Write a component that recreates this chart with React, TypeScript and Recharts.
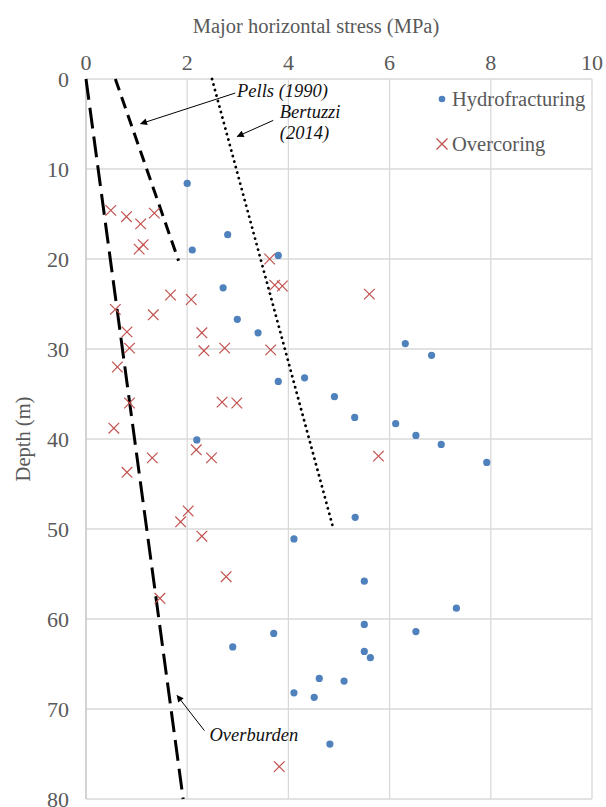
import React from 'react';
import {
  ScatterChart,
  Scatter,
  XAxis,
  YAxis,
  CartesianGrid,
  Legend,
  ReferenceLine,
  ReferenceDot,
} from 'recharts';

const FONT = '"Liberation Serif", "Times New Roman", Times, "DejaVu Serif", serif';
const TEXT_GREY = '#595959';
const BLUE = '#4F81BD';
const RED = '#C0504D';

// [stress (MPa), depth (m)]
const hydrofracturing: [number, number][] = [
  [2.0, 11.6], [2.8, 17.3], [2.1, 19.0], [3.8, 19.6], [2.71, 23.2],
  [2.99, 26.7], [3.4, 28.2], [6.31, 29.4], [6.83, 30.7], [3.8, 33.6],
  [4.32, 33.2], [4.91, 35.3], [5.31, 37.6], [6.12, 38.3], [6.52, 39.6],
  [7.02, 40.6], [7.92, 42.6], [2.19, 40.1], [5.32, 48.7], [4.11, 51.1],
  [5.5, 55.8], [7.32, 58.8], [5.5, 60.6], [6.52, 61.4], [3.71, 61.6],
  [2.9, 63.1], [5.5, 63.6], [5.62, 64.3], [4.61, 66.6], [5.1, 66.9],
  [4.11, 68.2], [4.51, 68.7], [4.82, 73.9],
];

const overcoring: [number, number][] = [
  [0.49, 14.6], [0.8, 15.3], [1.08, 16.1], [1.35, 14.9], [1.05, 18.9],
  [1.13, 18.4], [3.63, 20.0], [3.73, 22.9], [3.88, 23.0], [1.67, 24.0],
  [2.08, 24.5], [5.6, 23.9], [0.58, 25.6], [1.33, 26.2], [0.81, 28.1],
  [2.29, 28.2], [0.86, 29.9], [2.33, 30.2], [2.74, 29.9], [3.65, 30.1],
  [0.62, 32.0], [2.69, 35.9], [2.98, 36.0], [0.86, 36.0], [0.55, 38.8],
  [2.18, 41.2], [2.48, 42.1], [1.31, 42.1], [0.81, 43.7], [5.78, 41.9],
  [2.02, 48.0], [1.87, 49.2], [2.29, 50.8], [2.77, 55.3], [1.46, 57.7],
  [3.82, 76.4],
];

// reference stress profiles
const overburdenLine: [number, number][] = [[0, 0], [1.92, 80]];
const pellsLine: [number, number][] = [[0.58, 0], [1.83, 20.2]];
const bertuzziLine: [number, number][] = [[2.49, 0], [4.89, 50]];

const stressTicks = [0, 2, 4, 6, 8, 10];
const depthTicks = [0, 10, 20, 30, 40, 50, 60, 70, 80];

const annotationLabels = [
  { lines: ['Pells (1990)'], x: 2.985, y: 2.0 },
  { lines: ['Bertuzzi', '(2014)'], x: 3.83, y: 4.35 },
  { lines: ['Overburden'], x: 2.44, y: 73.5 },
];

const annotationArrows = [
  { from: { x: 2.95, y: 1.56 }, to: { x: 1.08, y: 4.97 } },
  { from: { x: 3.7, y: 4.6 }, to: { x: 2.99, y: 6.38 } },
  { from: { x: 2.34, y: 72.4 }, to: { x: 1.8, y: 68.5 } },
];

const toPoints = (arr: [number, number][]) => arr.map(([x, y]) => ({ x, y }));

const XTitle = (props: any) => {
  const vb = props.viewBox || { x: 86, y: 0, width: 506, height: 79 };
  const cx = vb.x + vb.width / 2 - 23;
  return (
    <text x={cx} y={33} textAnchor="middle" fill={TEXT_GREY} fontSize={20.5} style={{ fontFamily: FONT }}>
      Major horizontal stress (MPa)
    </text>
  );
};

const YTitle = (props: any) => {
  const vb = props.viewBox || { x: 0, y: 79, width: 86, height: 720 };
  const cx = 23;
  const cy = vb.y + vb.height / 2;
  return (
    <text
      x={cx}
      y={cy}
      transform={`rotate(-90 ${cx} ${cy})`}
      textAnchor="middle"
      dominantBaseline="central"
      fill={TEXT_GREY}
      fontSize={20.5}
      style={{ fontFamily: FONT }}
    >
      Depth (m)
    </text>
  );
};

const Dot = (p: any) => <circle cx={p.cx} cy={p.cy} r={3.6} fill={BLUE} />;

const Cross = (p: any) => (
  <g stroke={RED} strokeWidth={1.2}>
    <line x1={p.cx - 5.3} y1={p.cy - 5.3} x2={p.cx + 5.3} y2={p.cy + 5.3} />
    <line x1={p.cx + 5.3} y1={p.cy - 5.3} x2={p.cx - 5.3} y2={p.cy + 5.3} />
  </g>
);

const renderLegend = (props: any) => {
  const items = (props.payload || []).filter((e: any) => e.type !== 'none');
  return (
    <div style={{ fontFamily: FONT, fontSize: 20.5, color: TEXT_GREY }}>
      {items.map((entry: any, i: number) => (
        <div
          key={entry.value}
          style={{ display: 'flex', alignItems: 'center', height: 24, lineHeight: '24px', marginTop: i ? 21 : 0 }}
        >
          <svg width={12} height={12} style={{ marginRight: 4, flex: 'none' }}>
            {entry.value === 'Overcoring' ? (
              <g stroke={RED} strokeWidth={1.2}>
                <line x1={0.5} y1={0.5} x2={11.5} y2={11.5} />
                <line x1={11.5} y1={0.5} x2={0.5} y2={11.5} />
              </g>
            ) : (
              <circle cx={6} cy={6} r={3.3} fill={BLUE} />
            )}
          </svg>
          <span style={{ whiteSpace: 'nowrap' }}>{entry.value}</span>
        </div>
      ))}
    </div>
  );
};

const App = () => {
  const tickStyle = { fill: TEXT_GREY, fontSize: 22, style: { fontFamily: FONT } };

  return (
    <div style={{ position: 'absolute', left: 0, top: 0, fontFamily: FONT }}>
      <svg width={0} height={0} style={{ position: 'absolute' }}>
        <defs>
          <marker
            id="arrowHead"
            viewBox="0 0 10 10"
            refX={9}
            refY={5}
            markerWidth={9}
            markerHeight={7}
            markerUnits="userSpaceOnUse"
            orient="auto"
          >
            <path d="M0,0 L10,5 L0,10 z" fill="#000" />
          </marker>
        </defs>
      </svg>
      <ScatterChart
        width={606}
        height={807}
        margin={{ top: 0, right: 14, bottom: 8, left: 0 }}
        style={{ fontFamily: FONT }}
      >
        <CartesianGrid stroke="#d9d9d9" strokeWidth={1.3} />
        <XAxis
          type="number"
          dataKey="x"
          orientation="top"
          domain={[0, 10]}
          ticks={stressTicks}
          interval={0}
          height={79}
          axisLine={false}
          tickLine={false}
          tickSize={0}
          tickMargin={9}
          tick={tickStyle}
          label={<XTitle />}
        />
        <YAxis
          type="number"
          dataKey="y"
          reversed
          domain={[0, 80]}
          ticks={depthTicks}
          interval={0}
          width={86}
          axisLine={{ stroke: '#bfbfbf' }}
          tickLine={false}
          tickSize={0}
          tickMargin={17}
          tick={tickStyle}
          label={<YTitle />}
        />
        <Legend
          layout="horizontal"
          verticalAlign="middle"
          align="center"
          content={renderLegend}
          wrapperStyle={{ left: 436, top: 87, width: 'auto', height: 'auto' }}
        />
        <Scatter
          name="Overburden"
          data={toPoints(overburdenLine)}
          line={{ stroke: '#000', strokeWidth: 3, strokeDasharray: '21 8', fill: 'none' }}
          lineType="joint"
          shape={() => null}
          legendType="none"
          isAnimationActive={false}
        />
        <Scatter
          name="Pells (1990)"
          data={toPoints(pellsLine)}
          line={{ stroke: '#000', strokeWidth: 3, strokeDasharray: '12 7', fill: 'none' }}
          lineType="joint"
          shape={() => null}
          legendType="none"
          isAnimationActive={false}
        />
        <Scatter
          name="Bertuzzi (2014)"
          data={toPoints(bertuzziLine)}
          line={{ stroke: '#000', strokeWidth: 2.8, strokeDasharray: '0.1 5.6', strokeLinecap: 'round', fill: 'none' }}
          lineType="joint"
          shape={() => null}
          legendType="none"
          isAnimationActive={false}
        />
        <Scatter
          name="Hydrofracturing"
          data={toPoints(hydrofracturing)}
          fill={BLUE}
          shape={Dot}
          isAnimationActive={false}
        />
        <Scatter
          name="Overcoring"
          data={toPoints(overcoring)}
          fill={RED}
          shape={Cross}
          isAnimationActive={false}
        />
        {annotationArrows.map((a, i) => (
          <ReferenceLine
            key={`arrow-${i}`}
            segment={[a.from, a.to]}
            ifOverflow="visible"
            shape={(p: any) => (
              <line
                x1={p.x1}
                y1={p.y1}
                x2={p.x2}
                y2={p.y2}
                stroke="#000"
                strokeWidth={1}
                markerEnd="url(#arrowHead)"
              />
            )}
          />
        ))}
        {annotationLabels.map((a, i) => (
          <ReferenceDot
            key={`label-${i}`}
            x={a.x}
            y={a.y}
            ifOverflow="visible"
            shape={(p: any) => (
              <text
                x={p.cx}
                y={p.cy}
                fill="#111"
                fontSize={18.5}
                fontStyle="italic"
                style={{ fontFamily: FONT }}
              >
                {a.lines.map((line, j) => (
                  <tspan key={line} x={p.cx} dy={j ? 21 : 0}>
                    {line}
                  </tspan>
                ))}
              </text>
            )}
          />
        ))}
      </ScatterChart>
    </div>
  );
};

export default App;
